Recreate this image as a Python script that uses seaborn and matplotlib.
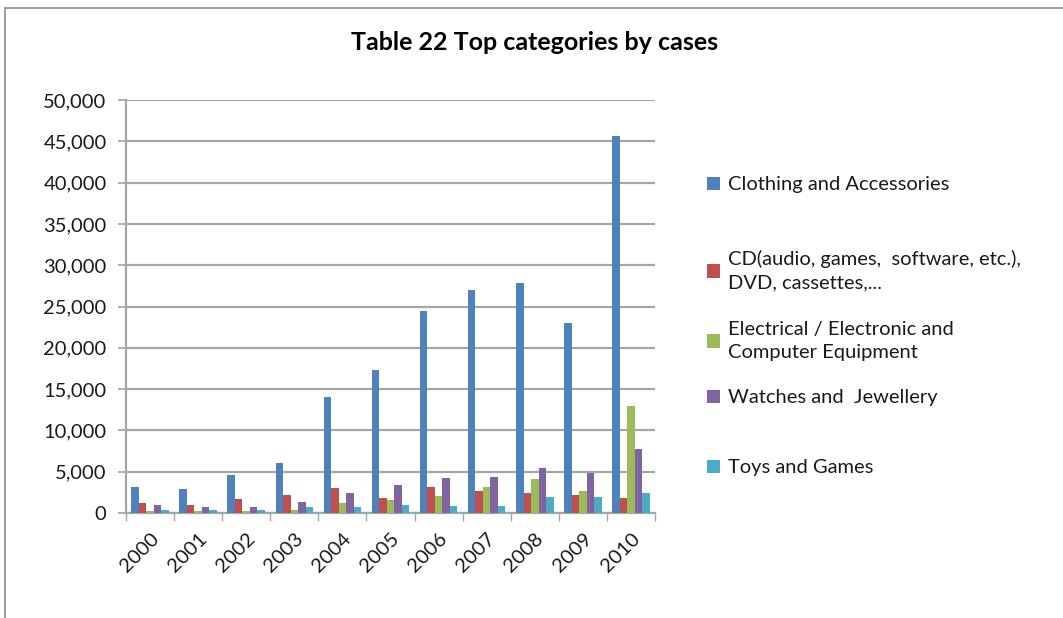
import matplotlib
matplotlib.use("Agg")
import matplotlib.pyplot as plt
import seaborn as sns
import pandas as pd
from matplotlib.ticker import FuncFormatter

years = ["2000", "2001", "2002", "2003", "2004", "2005", "2006", "2007", "2008", "2009", "2010"]
series_names = [
    "Clothing and Accessories",
    "CD(audio, games,  software, etc.),\nDVD, cassettes,...",
    "Electrical / Electronic and\nComputer Equipment",
    "Watches and  Jewellery",
    "Toys and Games",
]
clothing = [3200, 2900, 4600, 6000, 14100, 17300, 24500, 27000, 27800, 23000, 45700]
cd_dvd = [1200, 1000, 1700, 2200, 3000, 1800, 3100, 2700, 2400, 2200, 1800]
electrical = [200, 300, 300, 400, 1200, 1600, 2000, 3200, 4100, 2700, 13000]
watches = [1000, 700, 700, 1300, 2400, 3400, 4200, 4400, 5400, 4800, 7700]
toys = [400, 400, 400, 700, 700, 1000, 900, 900, 1900, 1900, 2400]
colors = ["#4F81BD", "#C0504D", "#9BBB59", "#8064A2", "#4BACC6"]

rows = []
for name, vals in zip(series_names, [clothing, cd_dvd, electrical, watches, toys]):
    for y, v in zip(years, vals):
        rows.append({"Year": y, "Series": name, "Cases": v})
df = pd.DataFrame(rows)

sns.set_theme(style="white")
plt.rcParams['font.family'] = ['Lato', 'DejaVu Sans']
plt.rcParams['text.color'] = '#1A1A1A'

fig = plt.figure(figsize=(10.63, 6.18), dpi=100)
ax = fig.add_axes([126 / 1063, 1 - 513 / 618, (655 - 126) / 1063, (513 - 100) / 618])

sns.barplot(data=df, x="Year", y="Cases", hue="Series", hue_order=series_names,
            palette=colors, width=0.78, ax=ax, errorbar=None, saturation=1,
            edgecolor="none", zorder=3)

ax.set_ylim(0, 50000)
ax.set_xlim(-0.5, len(years) - 0.5)
ax.set_yticks(range(0, 50001, 5000))
ax.yaxis.set_major_formatter(FuncFormatter(lambda v, p: f"{int(v):,}"))
ax.grid(axis="y", color="#A6A6A6", linewidth=1.6, zorder=0)
ax.set_axisbelow(True)
ax.set_xlabel("")
ax.set_ylabel("")
for s in ["top", "right"]:
    ax.spines[s].set_visible(False)
for s in ["left", "bottom"]:
    ax.spines[s].set_color("#A6A6A6")
    ax.spines[s].set_linewidth(1.6)
ax.tick_params(axis="y", labelsize=14.5, length=6, color="#A6A6A6", left=True, pad=8,
               labelcolor="#1A1A1A")
ax.tick_params(axis="x", labelsize=14.5, length=0, pad=12, labelcolor="#1A1A1A")
ax.set_xticks(range(len(years)))
ax.set_xticklabels(years, rotation=45, ha="right", rotation_mode="anchor")
ax.set_xticks([i - 0.5 for i in range(len(years) + 1)], minor=True)
ax.tick_params(axis="x", which="minor", length=6, color="#A6A6A6", bottom=True)

handles, labels = ax.get_legend_handles_labels()
ax.get_legend().remove()
legend_y = [185, 271, 341, 398, 468]
for h, lab, yy in zip(handles, labels, legend_y):
    leg = fig.legend([h], [lab], loc="center left", bbox_to_anchor=(707 / 1063, 1 - yy / 618),
                     frameon=False, fontsize=14.5, handlelength=0.65, handleheight=0.65,
                     handletextpad=0.4, borderpad=0, borderaxespad=0)
    for t in leg.get_texts():
        t.set_linespacing(1.45)

fig.text(535 / 1063, 1 - 43 / 618, "Table 22 Top categories by cases", ha="center", va="center",
         fontsize=18, fontweight="bold", color="#000000")

border = plt.Rectangle((5 / 1063, -0.02), 1.1, 1 - 8 / 618 + 0.02, transform=fig.transFigure,
                       fill=False, edgecolor="#8C8C8C", linewidth=1.2)
fig.patches.append(border)

fig.savefig("out.png", dpi=100)
